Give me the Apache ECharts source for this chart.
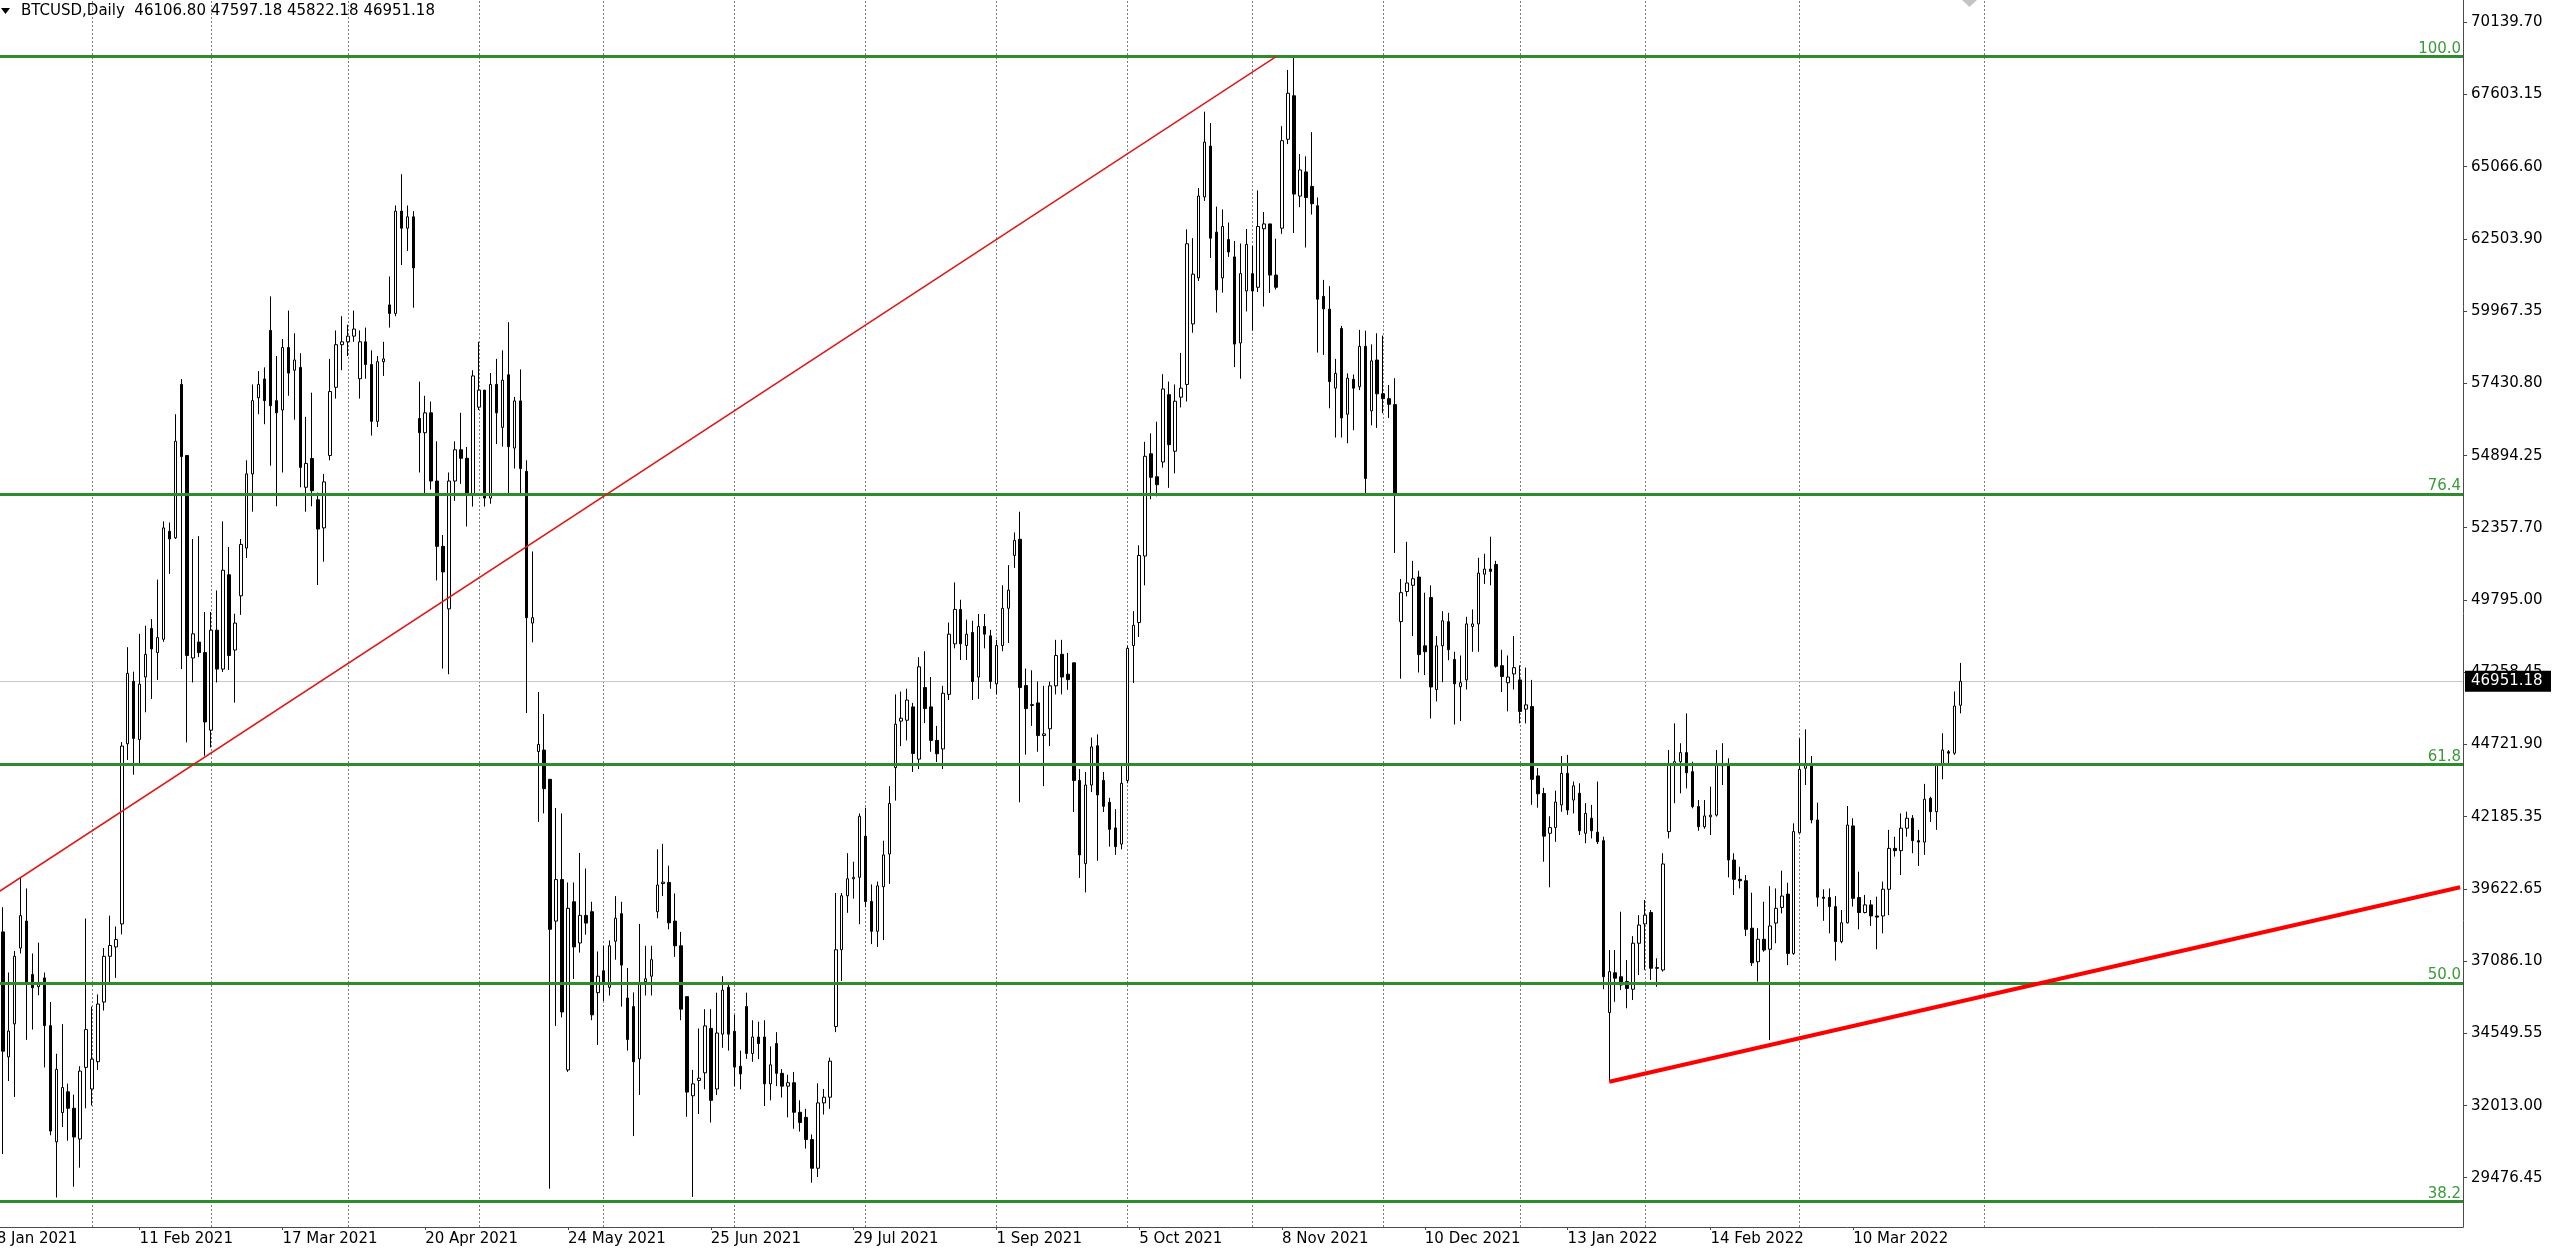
<!DOCTYPE html>
<html><head><meta charset="utf-8">
<script src="https://cdn.jsdelivr.net/npm/echarts@6/dist/echarts.min.js"></script>
<style>html,body{margin:0;padding:0;background:#fff;overflow:hidden}#c{width:2560px;height:1251px}</style>
</head><body><div id="c"></div>
<script>
// ---- OHLC per bar: [open, high, low, close] ----
const jan2021=[[39400,41900,36500,40000],[38130,39000,30310,33930],[33730,36700,32880,34640],[34890,37460,32320,37270],[37560,40040,37370,38700],[38510,39660,34330,36320],[36630,37370,34690,36160],[36200,37750,35900,36300],[36510,36700,33360,34830],[34830,35660,30970,31120],[30740,33840,28780,33290],[31770,34880,31260,32650],[32500,32790,30780,31920],[31920,32400,29160,30910],[30840,33400,29830,33230],[33360,38600,31920,34690]];
const feb2021=[[32600,35500,32020,33650],[33560,35930,33270,35590],[35660,37560,35360,37270],[37270,38700,36320,37650],[37600,38320,36510,37860],[38410,44810,38040,44670],[44750,48150,44180,47230],[46950,47290,43660,44940],[44900,48620,44040,46850],[47100,48910,45860,47900],[48810,49140,46330,48090],[47960,50530,47000,48490],[48430,52580,48340,52350],[52230,52540,50730,51960],[52000,56350,51960,55400],[57400,57590,47380,54860],[54900,54900,44800,47860],[47770,51960,46910,48620],[48330,52060,47800,47960],[47960,49390,44330,45520]];
const mar2021=[[45230,49390,44620,48750],[48750,50150,46910,47380],[47380,52580,47280,50860],[50700,51680,47350,47860],[48050,49330,46200,49000],[49960,51960,49290,51770],[51640,54730,51290,54250],[54250,57400,52920,56830],[56930,57870,56350,57400],[57590,58000,56000,56830],[59300,60500,54540,56650],[56830,58400,53110,56400],[56500,59000,54300,58700],[58700,60000,57000,57800],[57900,59200,56160,58260],[58000,58500,53780,54480],[53780,56260,52920,54620],[54790,57110,53110,53660],[53340,53590,50340,52310],[52350,54250,51160,53970],[54900,58300,54730,57150],[57300,59300,56900,58800],[58800,59800,57900,58900]];
const apr2021=[[58900,59500,58400,59100],[59100,60000,58900,59350],[57600,59300,56900,58900],[58900,59400,57600,58100],[58100,58600,55600,56100],[56100,58400,55900,58200],[58200,58900,57700,58300],[60200,61200,59400,59900],[59900,63700,59800,63500],[63500,64800,61600,62900],[62900,63700,62100,63300],[63300,63500,60100,61500],[56200,57500,54300,55700],[55700,57000,53500,56400],[56400,56800,53700,54000],[54000,55400,50500,51700],[51700,52100,47400,50800],[49500,54300,47200,54000],[54000,55400,53300,55100],[55100,56400,53900,54800],[54800,55200,52400,53500],[53500,57900,53100,57700]];
const may2021=[[56600,58900,56500,57200],[57200,57200,53100,53400],[53400,57800,53200,57400],[57400,58300,55300,56400],[55890,58600,55210,57550],[57740,59590,53560,55210],[55160,56960,54440,56820],[56820,57930,53470,54440],[54340,54730,45830,49190],[49000,51520,48320,49190],[44480,46570,42000,44730],[44530,45800,42300,43170],[43500,43500,29090,38220],[38510,42490,34820,39970],[39970,42300,35120,35310],[33270,39870,33200,38960],[39190,39870,36470,37600],[37740,40910,37400,38710],[38710,40360,38030,38440],[38840,39190,35020,35210],[35990,37440,34150,36570]];
const jun2021=[[36760,37640,35700,36280],[36180,37830,35890,37640],[37800,39390,37150,38610],[38770,39190,35500,36960],[35800,36860,33950,34340],[35500,36000,30940,33560],[33660,38410,32390,36320],[36380,37640,35890,36480],[36570,37640,35890,37150],[38840,41040,38610,39780],[39830,41230,39390,39880],[39870,40460,38220,38450],[38510,39480,37250,37640],[37640,38130,35020,35410],[35850,35850,31620,32490],[32360,33270,28800,32780],[32900,34730,31720,32980],[33170,35410,32590,34820],[34730,35410,31420,32200],[32600,35990,32390,34570],[34530,36570,34050,36080],[36180,36320,33950,34530]];
const jul2021=[[34630,35210,32690,33370],[33400,33950,32590,33130],[35500,35990,33660,33850],[33850,35020,33560,34430],[34430,34970,33650,34200],[34430,35020,32000,32780],[32780,34100,32200,33450],[34200,34600,32700,33150],[33150,33300,32300,32700],[32700,33100,31600,32820],[32820,33200,31200,31780],[31780,32200,31100,31420],[31600,31900,30500,30820],[30820,31000,29300,29810],[29810,32800,29500,32110],[32110,32600,31700,32310],[32310,33700,31900,33580],[34800,39500,34600,37500],[37500,39500,36400,39400],[39400,40900,38800,40000],[40000,40600,39300,40050],[40050,42300,38400,42200]];
const aug2021=[[41500,42500,39000,39200],[39200,39800,37700,38150],[38150,39900,37600,39750],[39720,41340,37840,40840],[40870,43260,39820,42650],[43910,46490,42750,45440],[45550,46590,44670,45650],[45580,46690,44870,46290],[46050,46190,43760,44410],[44210,47800,43860,47460],[46730,48010,45480,45990],[46050,47100,44470,44870],[44870,45380,44110,44400],[44570,46790,43860,46530],[46490,49020,46290,48610],[48270,50430,48110,49480],[49480,49820,47700,48270],[48210,49120,47700,48610],[48670,49080,46290,46940],[47100,49320,46330,48880],[48880,49320,48110,48610],[48550,48760,46690,46940]];
const sep2021=[[46860,48410,46490,48210],[48210,50330,48010,49520],[49520,51040,48300,50160],[51380,52190,50940,51910],[51950,52920,42690,46730],[46800,47400,44370,45990],[46100,47340,45380,46130],[46190,46940,44470,45040],[45040,46790,43260,45100],[45280,46940,44670,46790],[46790,48410,46490,47860],[47900,48410,46490,47100],[47200,47950,46650,47010],[47600,47600,42350,43460],[43460,43860,40030,40840],[40530,43760,39520,43300],[43300,44970,43050,44640],[44680,45080,40630,42950],[43460,43760,42350,42550],[42690,42850,41130,41740],[41790,42450,40840,41130],[41220,43970,41040,43360]];
const oct2021=[[43460,48210,43360,48110],[48210,49420,46890,48920],[49020,51740,48510,51380],[51360,55380,50330,54870],[54960,55680,53360,54130],[54150,56090,53460,53870],[54670,57760,54470,57240],[57040,57500,53760,55280],[55050,57400,54270,56810],[56950,58510,56590,57270],[57400,62860,56800,62350],[59530,62550,59220,61280],[61150,64310,61040,64030],[64000,67000,63860,65930],[65790,66600,61850,62550],[62760,63660,59930,60730],[61150,63560,60630,62960],[62500,63100,61890,62060],[61890,62450,58010,58820],[58860,62360,57600,61300],[60690,62870,59970,62330]];
const nov2021=[[61300,62270,59290,60690],[60820,64230,60650,62960],[62880,63470,60140,63050],[63050,63050,60620,61250],[61250,62530,60740,60820],[62900,66490,62700,65980],[66030,68470,65860,67650],[67560,68925,62730,64100],[64030,65510,63640,64950],[64880,65430,62220,63980],[64370,66280,63380,63760],[63690,63980,58520,60400],[60500,61080,58440,60060],[60050,60860,56560,57500],[57270,58300,55530,57790],[59370,59460,55530,56220],[56350,57790,55330,57620],[57580,57750,55790,57270],[57320,59320,57200,58740],[58740,59290,53490,54090],[56470,58810,55960,58230],[58260,59200,55870,57070]];
const dec2021=[[57070,59120,56390,56900],[56900,57380,56220,56700],[56690,57620,51470,53570],[49050,50550,47040,50070],[50110,51860,49940,50410],[50330,51190,48540,50560],[50620,50840,47260,47890],[48200,50070,47170,47990],[49900,50330,45640,46750],[46660,48540,46240,48200],[48200,49420,46920,49080],[49050,49360,47690,48060],[47720,47990,45430,46860],[46760,47860,45550,46900],[47000,49220,46660,48970],[48880,49480,47990,48970],[48970,51300,47990,50760],[50720,51440,50380,50900],[50900,52040,50330,50820],[51060,51190,47430,47480],[47500,48060,46570,47120],[46900,47860,45890,47100],[47210,48540,46660,47430]];
const jan2022=[[47000,47510,45470,45890],[45970,47430,45470,46120],[46060,47000,42600,43500],[43620,43900,42500,42990],[43000,43200,40600,41500],[41600,42200,39700,41800],[41800,43100,41300,42700],[42600,44320,42360,43710],[43710,44360,42250,42420],[42770,43420,42300,43270],[43010,43360,41540,41690],[41600,42660,41250,42300],[42130,42600,41420,41690],[41640,43420,41220,41300],[41340,41480,36110,36550],[35290,37490,32860,36730],[36690,37490,35670,36500],[36550,38840,36080,36260],[36380,37140,35440,36140],[36110,37980,35730,37730],[37730,38720,36610,38370]];
const feb2022=[[38410,39250,36790,38720],[38810,38900,36440,36850],[36870,37200,36200,36850],[36790,40900,36730,40520],[41660,44530,41420,44040],[44040,45470,42660,44120],[44120,44770,43010,44440],[44440,45820,43180,43730],[43770,44120,42480,42540],[42540,42770,41690,41830],[41830,42770,41760,42210],[42180,43240,41540,42240],[42240,44530,42190,44000],[43970,44770,43300,44060],[44060,44240,40050,40660],[40660,40900,39430,39980],[39980,40420,39660,39930],[39930,40130,37980,38220],[38260,39510,36930,37040],[37080,38260,36380,37870],[37870,39190,37430,37490],[37520,39740,34320,38340],[38440,39660,37730,38960],[38990,40280,38780,39390],[39460,39860,36960,37370],[37370,41950,37320,41660]];
const mar2022=[[41620,44940,41600,43850],[43890,45260,43300,44000],[44060,44320,41950,42070],[42070,42680,39020,39350],[39350,39630,38520,39310],[39340,39660,38080,39020],[39020,39390,37120,37790],[37790,38900,37730,38450],[38450,42560,38430,41890],[41860,42130,39020,39310],[39340,40250,38220,38810],[38810,39430,38780,39080],[39080,39250,38340,38690],[38690,39370,37520,38650],[38690,39900,38080,39630],[39630,41720,38720,41070],[41070,41480,40780,40990],[40990,42300,40130,41780],[41780,42360,41480,42130],[42130,42240,40900,41340],[41340,41720,40450,41290],[41290,43340,40840,42800],[42830,42890,42000,42360],[42360,44060,41720,44000],[44000,45120,43500,44530],[44470,44530,44040,44420],[44420,46590,44360,46080],[46106.80,47597.18,45822.18,46951.18]];

// ---- price axis labels (as printed on the chart) ----
const yTickLabels=[70139.70,67603.15,65066.60,62503.90,59967.35,57430.80,54894.25,52357.70,49795.00,47258.45,44721.90,42185.35,39622.65,37086.10,34549.55,32013.00,29476.45];
const yMin=27741.6, yMax=70932;

// ---- Fibonacci retracement ----
const fibLow=3729, fibHigh=68941;
const fibRatios=[100,76.4,61.8,50.0,38.2];

// ---- trend lines: [bar index, price] ----
const resistanceTrend=[[0,39495],[215,68943]];
const supportTrend=[[271,32856],[298,34148]];

const headerText='BTCUSD,Daily  46106.80 47597.18 45822.18 46951.18';
const FONT='DejaVu Sans';

// ---- build categories (weekday bars until 11 Feb 2022, daily afterwards) ----
const ohlc=[].concat(jan2021,feb2021,mar2021,apr2021,may2021,jun2021,jul2021,aug2021,sep2021,oct2021,nov2021,dec2021,jan2022,feb2022,mar2022);
const MON=['Jan','Feb','Mar','Apr','May','Jun','Jul','Aug','Sep','Oct','Nov','Dec'];
const TOTAL=415;
const cats=[], months=[];
let t=Date.UTC(2021,0,8);
const dailyFrom=Date.UTC(2022,1,12);
while(cats.length<TOTAL){
  const d=new Date(t), wd=d.getUTCDay();
  if(t>=dailyFrom || (wd!==0 && wd!==6)){
    cats.push(d.getUTCDate()+' '+MON[d.getUTCMonth()]+' '+d.getUTCFullYear());
    months.push(d.getUTCFullYear()*12+d.getUTCMonth());
  }
  t+=86400000;
}
const seps=[];
for(let i=1;i<cats.length;i++){ if(months[i]!==months[i-1] && i<=ohlc.length+4) seps.push(cats[i]); }

const candle=ohlc.map(r=>[r[0],r[3],r[2],r[1]]);
const lastClose=ohlc[ohlc.length-1][3];
const lblInterval=(i)=> i%24===0 && i<ohlc.length;

const slope=(supportTrend[1][1]-supportTrend[0][1])/(supportTrend[1][0]-supportTrend[0][0]);
const supEnd=TOTAL-1;
const supportLine=[supportTrend[0],[supEnd, supportTrend[0][1]+slope*(supEnd-supportTrend[0][0])]];

const chart=echarts.init(document.getElementById('c'),null,{renderer:'canvas'});
const axisColor='#4a4a4a';
chart.setOption({
  animation:false,
  backgroundColor:'#ffffff',
  grid:{left:-6.175,top:0,width:2469.25,height:1227,containLabel:false,outerBoundsMode:'none'},
  xAxis:{type:'category',data:cats,boundaryGap:true,
    axisLine:{show:true,lineStyle:{color:axisColor,width:1}},
    axisTick:{show:true,alignWithLabel:true,interval:lblInterval,length:3,lineStyle:{color:axisColor}},
    axisLabel:{show:true,interval:lblInterval,align:'left',margin:5,color:'#000',fontSize:15,fontFamily:FONT},
    splitLine:{show:false}},
  yAxis:{type:'value',position:'right',min:yMin,max:yMax,scale:true,
    axisLine:{show:true,lineStyle:{color:axisColor,width:1}},
    axisTick:{show:true,length:4,customValues:yTickLabels,lineStyle:{color:axisColor}},
    axisLabel:{show:true,customValues:yTickLabels,formatter:v=>Number(v).toFixed(2),margin:8,color:'#000',fontSize:15,fontFamily:FONT},
    splitLine:{show:false}},
  series:[
    {type:'line',data:[],z:1,silent:true,
      markLine:{z:1,silent:true,symbol:['none','none'],label:{show:false},animation:false,
        data:[
          ...seps.map(c=>({xAxis:c,lineStyle:{color:'#7a7a7a',type:[2,2],width:1}})),
          {yAxis:lastClose,lineStyle:{color:'#c8c8c8',type:'solid',width:1}}
        ]}},
    {type:'candlestick',data:candle,z:2,barWidth:3,silent:true,
      itemStyle:{color:'#ffffff',color0:'#000000',borderColor:'#000000',borderColor0:'#000000',borderColorDoji:'#000000',borderWidth:1}},
    {type:'line',data:[],z:3,silent:true,
      markLine:{z:3,silent:true,symbol:['none','none'],animation:false,
        lineStyle:{color:'#2e8b2e',width:3,type:'solid'},
        label:{show:true,position:'insideEndTop',distance:[2,0],color:'#3c9a3c',fontSize:15,fontFamily:FONT},
        data:fibRatios.map(r=>({yAxis:fibLow+(fibHigh-fibLow)*r/100,label:{formatter:r.toFixed(1)}}))}},
    {type:'line',data:resistanceTrend,z:4,silent:true,symbol:'none',lineStyle:{color:'#dd1a1a',width:1.5}},
    {type:'line',data:supportLine,z:4,silent:true,symbol:'none',lineStyle:{color:'#ff0000',width:4}}
  ]
});

const py=chart.convertToPixel({yAxisIndex:0},lastClose);
chart.setOption({graphic:[
  {type:'polygon',shape:{points:[[1,8],[10,8],[5.5,14]]},style:{fill:'#000'},z:100},
  {type:'text',x:21,y:11,style:{text:headerText,fontSize:15,fontFamily:FONT,fill:'#000',verticalAlign:'middle'},z:100},
  {type:'polygon',shape:{points:[[1962,0],[1977,0],[1969.5,7]]},style:{fill:'#c4c4c4'},z:100},
  {type:'rect',shape:{x:2465,y:py-10.5,width:86,height:21},style:{fill:'#000'},z:100},
  {type:'text',x:2471,y:py,style:{text:lastClose.toFixed(2),fontSize:15,fontFamily:FONT,fill:'#fff',verticalAlign:'middle'},z:101}
]});
</script></body></html>
